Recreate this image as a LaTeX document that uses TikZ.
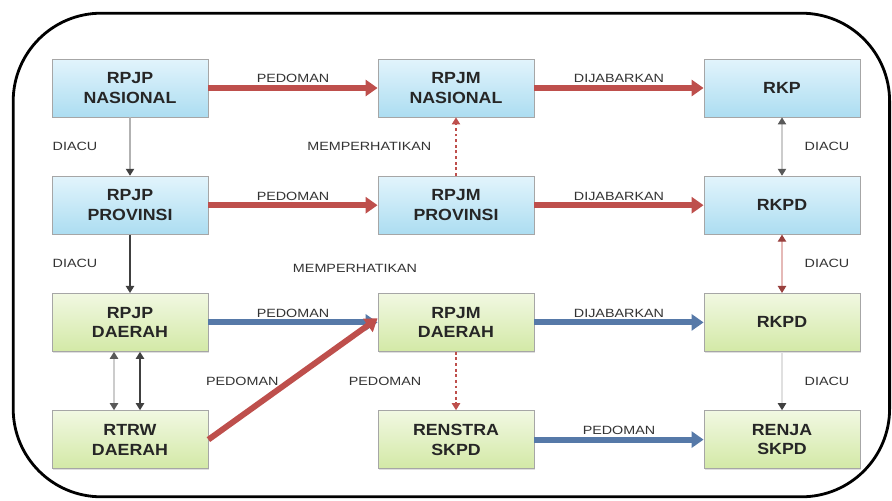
\documentclass[tikz,border=0pt]{standalone}
\usepackage{fontspec}
\setmainfont{Liberation Sans}
\newfontfamily\boxfont[FakeStretch=1.1]{Liberation Sans}
\newfontfamily\lblfont[FakeStretch=1.2]{Liberation Sans}
\usetikzlibrary{positioning,arrows.meta,shadows}

\definecolor{flowred}{HTML}{BE4F4C}
\definecolor{flowblue}{HTML}{5679A8}
\definecolor{bluetop}{HTML}{E2F4FC}
\definecolor{bluebot}{HTML}{ACDDF1}
\definecolor{greentop}{HTML}{F1F8E2}
\definecolor{greenbot}{HTML}{D3E9A6}

\tikzset{
  plan/.style={draw=black!35, line width=0.6pt, minimum width=3.9cm,
    minimum height=1.45cm, align=center, text=black!85,
    font=\boxfont\bfseries\fontsize{11.5}{14}\selectfont,
    drop shadow={opacity=0.25, shadow xshift=0.8pt, shadow yshift=-0.8pt}},
  nas/.style={plan, top color=bluetop, bottom color=bluebot},
  dae/.style={plan, top color=greentop, bottom color=greenbot},
  lbl/.style={font=\lblfont\fontsize{8.5}{10}\selectfont, text=black!80, inner sep=1.5pt},
  redflow/.style={draw=flowred, line width=4.2pt, -{Triangle[length=0.3cm, width=0.4cm]}},
  blueflow/.style={draw=flowblue, line width=4.2pt, -{Triangle[length=0.3cm, width=0.4cm]}},
  refline/.style={draw=black!75, line width=0.8pt, -{Triangle[length=5pt, width=6pt, color=black!75]}},
  paleline/.style={draw=black!20, line width=0.8pt,
    {Triangle[length=5pt, width=6pt, color=black!65]}-{Triangle[length=5pt, width=6pt, color=black!65]}},
  dotline/.style={draw=flowred, line width=0.8pt, dash pattern=on 2pt off 2pt, -{Triangle[length=5pt, width=6pt]}}
}

\begin{document}
\begin{tikzpicture}[node distance=2.93cm and 8.15cm, on grid]
  \useasboundingbox (0,0) rectangle (22.3,-12.525);
  \draw[line width=2pt, rounded corners=2.2cm] (0.33,-0.33) rectangle (22.24,-12.42);

  % nasional / provinsi
  \node[nas] (rpjpn) at (3.25,-2.2) {RPJP\\NASIONAL};
  \node[nas] (rpjmn) [right=of rpjpn] {RPJM\\NASIONAL};
  \node[nas] (rkp) [right=of rpjmn] {RKP};
  \node[nas] (rpjpp) [below=of rpjpn] {RPJP\\PROVINSI};
  \node[nas] (rpjmp) [right=of rpjpp] {RPJM\\PROVINSI};
  \node[nas] (rkpdp) [right=of rpjmp] {RKPD};

  % daerah
  \node[dae] (rpjpd) [below=of rpjpp] {RPJP\\DAERAH};
  \node[dae] (rpjmd) [right=of rpjpd] {RPJM\\DAERAH};
  \node[dae] (rkpd) [right=of rpjmd] {RKPD};
  \node[dae] (rtrw) [below=of rpjpd] {RTRW\\DAERAH};
  \node[dae] (renstra) [right=of rtrw] {RENSTRA\\SKPD};
  \node[dae] (renja) [right=of renstra] {RENJA\\SKPD};

  \node[lbl] (perhatian) at (8.875,-6.7) {MEMPERHATIKAN};

  \path
    (rpjpn) edge[redflow] node[lbl, above] {PEDOMAN} (rpjmn)
    (rpjmn) edge[redflow] node[lbl, above] {DIJABARKAN} (rkp)
    (rpjpp) edge[redflow] node[lbl, above] {PEDOMAN} (rpjmp)
    (rpjmp) edge[redflow] node[lbl, above] {DIJABARKAN} (rkpdp)
    (rpjpd) edge[blueflow] node[lbl, above] {PEDOMAN} (rpjmd)
    (rpjmd) edge[blueflow] node[lbl, above] {DIJABARKAN} (rkpd)
    (renstra) edge[blueflow] node[lbl, above] {PEDOMAN} (renja)
    (rtrw.east) edge[redflow] node[lbl, pos=0.2, yshift=0.85cm] {PEDOMAN} ([yshift=0.1cm]rpjmd.west);

  \path
    (rpjpn) edge[refline, draw=black!30] node[lbl, left, xshift=-0.75cm] {DIACU} (rpjpp)
    (rpjpp) edge[refline] node[lbl, left, xshift=-0.75cm] {DIACU} (rpjpd)
    ([xshift=-0.4cm]rpjpd.south) edge[paleline] ([xshift=-0.4cm]rtrw.north)
    ([xshift=0.25cm]rpjpd.south) edge[refline, {Triangle[length=5pt, width=6pt]}-{Triangle[length=5pt, width=6pt]}] ([xshift=0.25cm]rtrw.north)
    (rpjmp) edge[dotline] node[lbl, left, xshift=-0.55cm] {MEMPERHATIKAN} (rpjmn)
    (rpjmd) edge[dotline] node[lbl, left, xshift=-0.8cm] {PEDOMAN} (renstra)
    (rkpdp) edge[paleline] node[lbl, right, xshift=0.5cm] {DIACU} (rkp)
    (rkpdp) edge[paleline, draw=flowred!40, {Triangle[length=5pt, width=6pt, color=flowred!80!black]}-{Triangle[length=5pt, width=6pt, color=flowred!80!black]}] node[lbl, right, xshift=0.5cm] {DIACU} (rkpd)
    (rkpd) edge[refline, draw=black!12] node[lbl, right, xshift=0.5cm] {DIACU} (renja);
\end{tikzpicture}
\end{document}
